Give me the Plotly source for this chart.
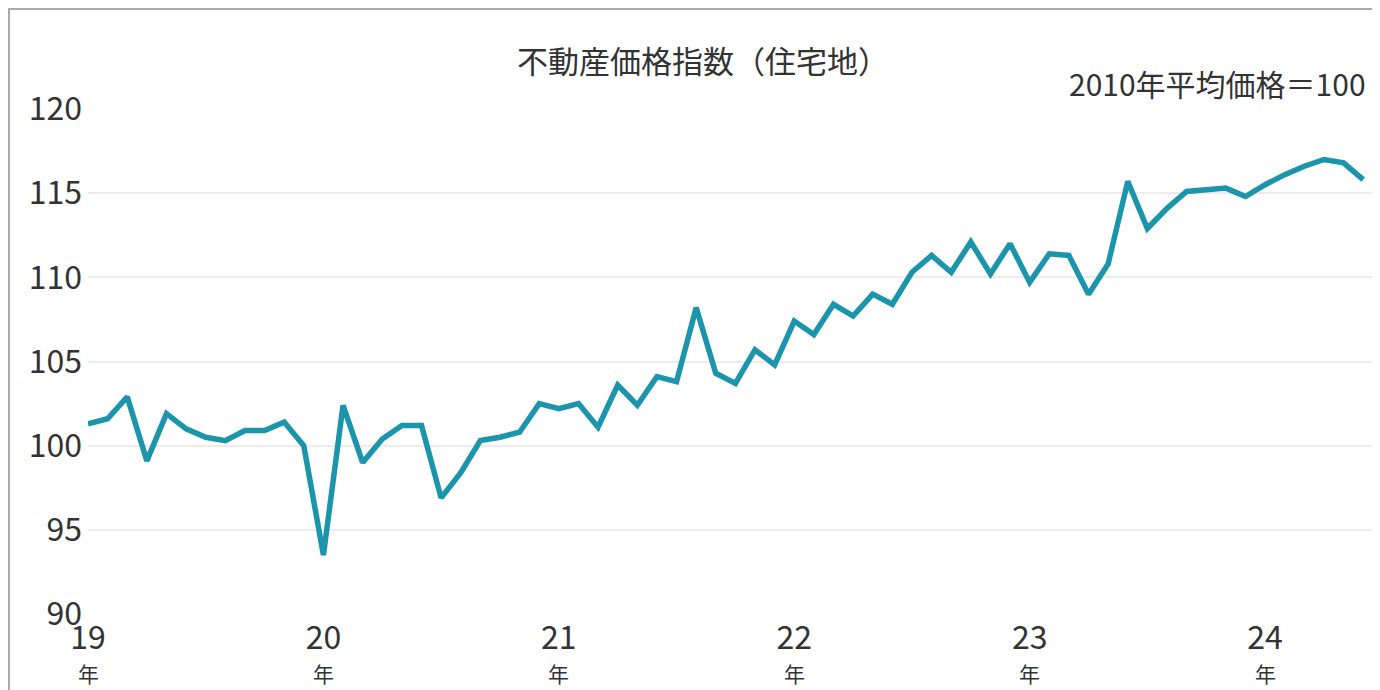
import plotly.graph_objects as go

# Monthly index, Jan 2019 - Jun 2024 (2010 average = 100)
values = [
    101.3, 101.6, 102.9, 99.1, 101.9, 101.0, 100.5, 100.3, 100.9, 100.9, 101.4, 100.0,
    93.5, 102.4, 99.0, 100.4, 101.2, 101.2, 96.9, 98.4, 100.3, 100.5, 100.8, 102.5,
    102.2, 102.5, 101.1, 103.6, 102.4, 104.1, 103.8, 108.2, 104.3, 103.7, 105.7, 104.8,
    107.4, 106.6, 108.4, 107.7, 109.0, 108.4, 110.3, 111.3, 110.3, 112.1, 110.2, 112.0,
    109.7, 111.4, 111.3, 109.0, 110.8, 115.7, 112.9, 114.1, 115.1, 115.2, 115.3, 114.8,
    115.5, 116.1, 116.6, 117.0, 116.8, 115.8,
]
months = list(range(len(values)))
year_labels = ["19", "20", "21", "22", "23", "24"]
year_ticks = [0, 12, 24, 36, 48, 60]

font = "Noto Sans CJK JP, Noto Sans, sans-serif"

fig = go.Figure()
fig.add_trace(go.Scatter(
    x=months, y=values, mode="lines",
    line=dict(color="#1b95ab", width=5.5),
    showlegend=False,
))

W = 1380 - 80 - 15
H = 690 - 101 - 84

annotations = [
    dict(text="不動産価格指数（住宅地）", xref="paper", yref="paper",
         x=(695 - 80) / W, y=1 + (101 - 52) / H, xanchor="center", yanchor="middle",
         showarrow=False, font=dict(size=31, color="#333333")),
    dict(text="2010年平均価格＝100", xref="paper", yref="paper",
         x=(1360 - 80) / W, y=1 + (101 - 75) / H, xanchor="right", yanchor="middle",
         showarrow=False, font=dict(size=30, color="#333333")),
]
for t in year_ticks:
    annotations.append(dict(text="年", x=t, xref="x", yref="paper",
                            y=-(665 - 606) / H, xanchor="center", yanchor="middle",
                            showarrow=False, font=dict(size=21, color="#333333")))

fig.update_layout(
    width=1380, height=690,
    margin=dict(l=80, r=15, t=101, b=84),
    paper_bgcolor="white", plot_bgcolor="white",
    font=dict(family=font, color="#333333"),
    xaxis=dict(
        range=[0, 65.5], tickvals=year_ticks, ticktext=year_labels,
        showgrid=False, zeroline=False, showline=False, ticks="",
        tickfont=dict(size=32), ticklabelstandoff=2, automargin=False,
    ),
    yaxis=dict(
        range=[90, 120], dtick=5, showgrid=True, gridcolor="#ececec", gridwidth=2,
        zeroline=False, ticks="", tickfont=dict(size=32), ticklabelstandoff=5,
        automargin=False,
    ),
    annotations=annotations,
    shapes=[
        dict(type="rect", xref="paper", yref="paper",
             x0=-79 / W, x1=1 + 14 / W, y0=-83 / H, y1=1 + 100 / H,
             line=dict(color="#aaaaaa", width=2)),
    ],
)

fig.write_html("out.html")
